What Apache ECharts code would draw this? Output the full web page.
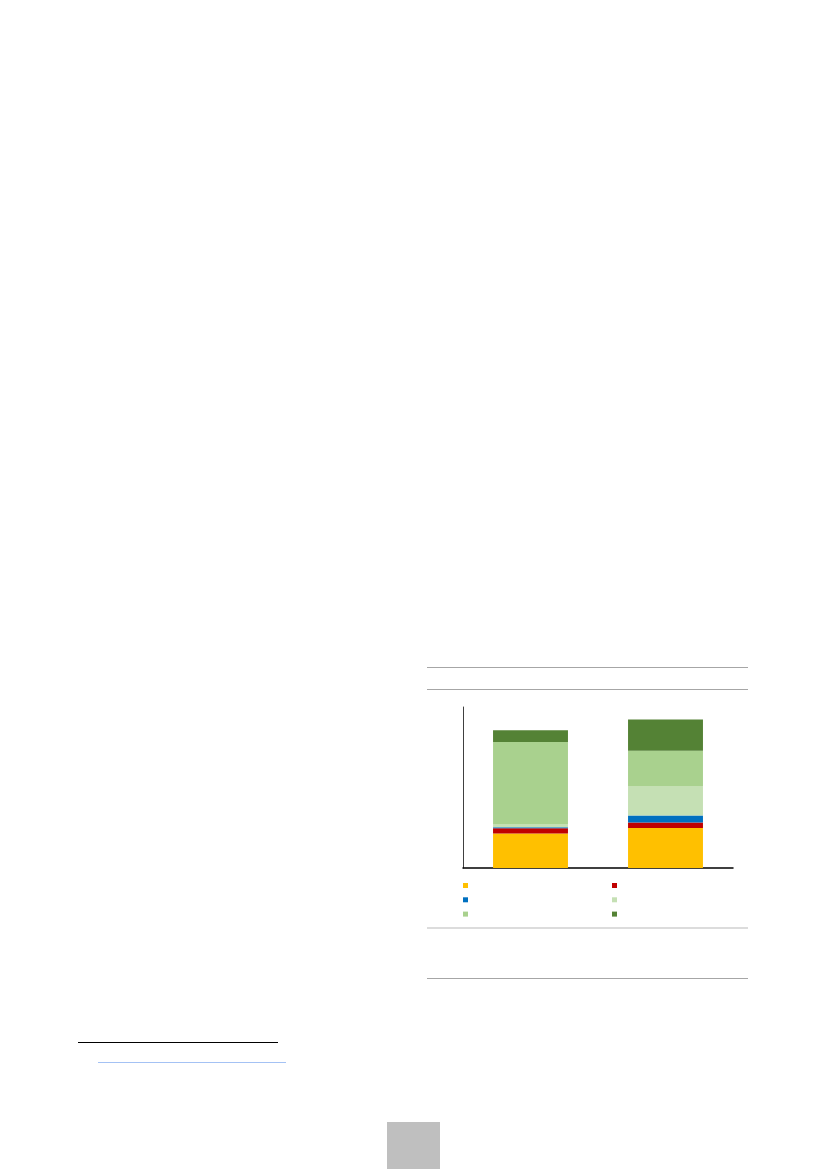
<!DOCTYPE html>
<html>
<head>
<meta charset="utf-8">
<script src="https://cdn.jsdelivr.net/npm/echarts@6/dist/echarts.min.js"></script>
<style>
  html, body { margin: 0; padding: 0; background: #fff; }
  #page { position: relative; width: 827px; height: 1169px; overflow: hidden; }
  #chart { position: absolute; left: 0; top: 0; width: 827px; height: 1169px; }
  .rule { position: absolute; }
</style>
</head>
<body>
<div id="page">
  <div id="chart"></div>
  <!-- page decorations around the figure -->
  <div class="rule" style="left:427px;top:667px;width:321px;height:1px;background:#a6a6a6"></div>
  <div class="rule" style="left:427px;top:689px;width:321px;height:1px;background:#a6a6a6"></div>
  <div class="rule" style="left:427px;top:927px;width:321px;height:2px;background:#dcdcdc"></div>
  <div class="rule" style="left:427px;top:978px;width:321px;height:1px;background:#a6a6a6"></div>
  <div class="rule" style="left:78px;top:1042px;width:200px;height:1px;background:#000"></div>
  <div class="rule" style="left:98px;top:1062px;width:188px;height:1px;background:#a4c2f4"></div>
  <div class="rule" style="left:387px;top:1122px;width:53px;height:47px;background:#bfbfbf"></div>
</div>
<script>
// categories (labels not shown in the reference)
var categories = ['A', 'B'];

// stacked segments, bottom to top
var seriesNames = ['S1', 'S2', 'S3', 'S4', 'S5', 'S6'];
var s1 = [21.4, 24.8];   // yellow
var s2 = [3.3, 3.5];     // red
var s3 = [0.6, 4.3];     // blue
var s4 = [1.7, 18.0];    // light green
var s5 = [51.3, 22.2];   // mid green
var s6 = [7.2, 19.5];    // dark green

var colors = ['#ffc000', '#c00000', '#0070c0', '#c5e0b4', '#a9d18e', '#548235'];
var allData = [s1, s2, s3, s4, s5, s6];

var myChart = echarts.init(document.getElementById('chart'));

var series = allData.map(function (d, i) {
  return {
    name: seriesNames[i],
    type: 'bar',
    stack: 'total',
    data: d,
    barWidth: '55.5%',
    itemStyle: { color: colors[i] },
    emphasis: { disabled: true }
  };
});

// two legend columns, filled row by row in the reference
var legendBase = {
  orient: 'vertical',
  top: 883,
  padding: 0,
  itemWidth: 5,
  itemHeight: 5,
  itemGap: 9.3,
  icon: 'rect',
  selectedMode: false,
  formatter: function () { return ''; },
  textStyle: { fontSize: 1 }
};

myChart.setOption({
  animation: false,
  grid: { left: 463, top: 707, width: 270, height: 161, containLabel: false },
  legend: [
    Object.assign({}, legendBase, { left: 463, data: [seriesNames[0], seriesNames[2], seriesNames[4]] }),
    Object.assign({}, legendBase, { left: 612, data: [seriesNames[1], seriesNames[3], seriesNames[5]] })
  ],
  xAxis: {
    type: 'category',
    data: categories,
    axisLine: { lineStyle: { color: '#000', width: 1.5 } },
    axisTick: { show: false },
    axisLabel: { show: false }
  },
  yAxis: {
    type: 'value',
    min: 0,
    max: 100,
    axisLine: { show: true, lineStyle: { color: '#404040', width: 1 } },
    axisTick: { show: false },
    axisLabel: { show: false },
    splitLine: { show: false }
  },
  series: series
});
</script>
</body>
</html>
